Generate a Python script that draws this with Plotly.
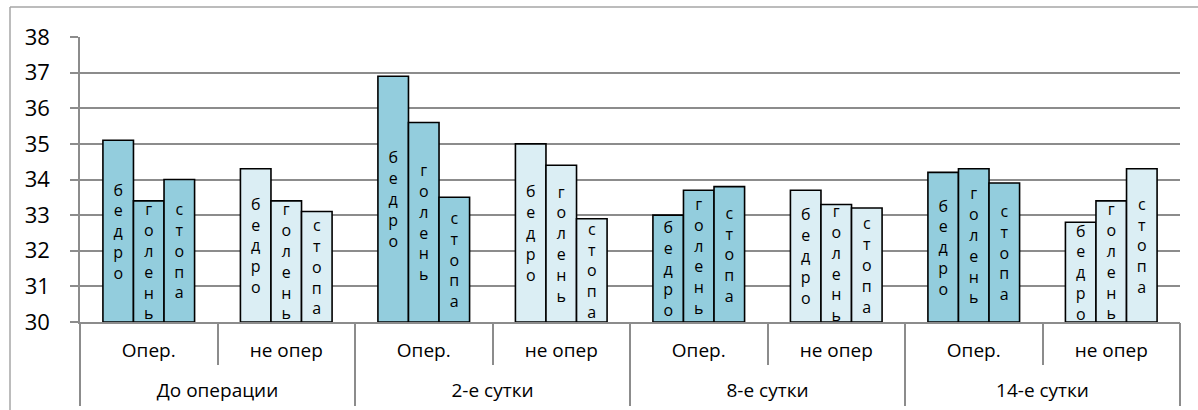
import plotly.graph_objects as go

# Categories
periods = ["До операции", "2-е сутки", "8-е сутки", "14-е сутки"]
sides = ["Опер.", "не опер"]
parts = ["бедро", "голень", "стопа"]

# Temperature values, ordered (period, side)
bedro = [35.1, 34.3, 36.9, 35.0, 33.0, 33.7, 34.2, 32.8]
golen = [33.4, 33.4, 35.6, 34.4, 33.7, 33.3, 34.3, 33.4]
stopa = [34.0, 33.1, 33.5, 32.9, 33.8, 33.2, 33.9, 34.3]

# Axis ticks
y_ticks = [30, 31, 32, 33, 34, 35, 36, 37, 38]

series = [bedro, golen, stopa]
Y_MIN, Y_MAX = 30, 38
BARGAP = 1 / 3
DARK = "#93CDDD"
LIGHT = "#DBEEF4"
GRID = "#8C8C8C"
FRAME = "#A6A6A6"
FONT = "Open Sans"

inner = [s for p in periods for s in sides]
pos = list(range(len(inner)))
colors = [DARK if s == sides[0] else LIGHT for s in inner]
n_side = len(sides)
period_pos = [i * n_side + (n_side - 1) / 2 for i in range(len(periods))]
inner_bounds = [i - 0.5 for i in range(len(inner) + 1)]
period_bounds = [i * n_side - 0.5 for i in range(len(periods) + 1)]

fig = go.Figure()
for name, vals in zip(parts, series):
    # bars rise from the bottom of the value axis so the labels sit in the visible part
    fig.add_trace(go.Bar(
        x=pos, y=[v - Y_MIN for v in vals], base=Y_MIN, name=name,
        text=["<br>".join(name)] * len(vals),
        textposition="inside", insidetextanchor="middle", constraintext="none",
        textfont=dict(family=FONT, size=16, color="black"),
        marker=dict(color=colors, line=dict(color="black", width=1.6)),
        hoverinfo="skip",
    ))
# carrier for the period-level axis
fig.add_trace(go.Scatter(x=[None], y=[None], xaxis="x2", yaxis="y",
                         mode="markers", showlegend=False, hoverinfo="skip"))

# chart frame (left and top edges inside the page)
frame = [
    dict(type="line", xref="paper", yref="paper", x0=-70 / 1100, x1=-70 / 1100,
         y0=-0.5, y1=1 + 30 / 284.5, line=dict(color=FRAME, width=1.5)),
    dict(type="line", xref="paper", yref="paper", x0=-70 / 1100, x1=1.1,
         y0=1 + 30 / 284.5, y1=1 + 30 / 284.5, line=dict(color=FRAME, width=1.5)),
]

fig.update_layout(
    width=1198, height=410,
    margin=dict(l=80, r=18, t=37, b=88),
    paper_bgcolor="white", plot_bgcolor="white",
    barmode="group", bargap=BARGAP, bargroupgap=0,
    showlegend=False,
    font=dict(family=FONT, color="black"),
    shapes=frame,
    xaxis=dict(
        range=[-0.5, len(inner) - 0.5], tickmode="array", tickvals=pos,
        ticktext=inner, ticks="", showline=True, linecolor=GRID, linewidth=1.5,
        showgrid=False, zeroline=False, ticklabelstandoff=10, automargin=False,
        tickfont=dict(size=19, family=FONT),
        minor=dict(tickmode="array", tickvals=inner_bounds, ticks="outside",
                   ticklen=41, tickcolor=GRID, tickwidth=1.5, showgrid=False),
    ),
    xaxis2=dict(
        overlaying="x", anchor="y", side="bottom",
        range=[-0.5, len(inner) - 0.5], tickmode="array", tickvals=period_pos,
        ticktext=periods, ticks="", showline=False, showgrid=False,
        zeroline=False, ticklabelstandoff=55, automargin=False,
        tickfont=dict(size=19, family=FONT),
        minor=dict(tickmode="array", tickvals=period_bounds, ticks="outside",
                   ticklen=83, tickcolor=GRID, tickwidth=1.5, showgrid=False),
    ),
    yaxis=dict(
        range=[Y_MIN, Y_MAX], tickmode="array", tickvals=y_ticks,
        showgrid=True, gridcolor=GRID, gridwidth=1.5, showline=True,
        linecolor=GRID, linewidth=1.5, ticks="outside", ticklen=8,
        tickcolor=GRID, tickwidth=1.5, ticklabelstandoff=16, automargin=False,
        tickfont=dict(size=22, family=FONT), zeroline=False,
    ),
)

fig.write_html("out.html")
